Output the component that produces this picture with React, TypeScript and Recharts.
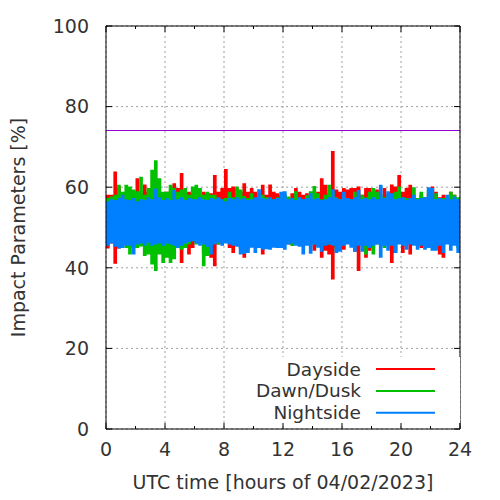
import { ComposedChart, Area, XAxis, YAxis, CartesianGrid, ReferenceLine, Legend } from 'recharts'

// tijdas in uren, bins van 15 minuten
const HOUR_TICKS = [0, 4, 8, 12, 16, 20, 24]
const MINOR_HOURS = [2, 6, 10, 14, 18, 22]
const PCT_TICKS = [0, 20, 40, 60, 80, 100]
const BIN_HOURS = 0.25
const LIMIT_PCT = 74

// boven- en ondergrens per bin
const dayHi = [
  58.1, 58.1, 63.9, 60.2, 57.0, 58.5, 58.9, 57.5, 62.2, 58.5, 60.7, 58.9, 58.9, 57.0, 58.1, 57.5, 58.9, 58.9, 61.0, 59.8, 63.5, 57.5, 58.9, 58.5,
  58.9, 57.5, 58.9, 58.5, 58.5, 63.0, 58.9, 59.8, 64.5, 59.8, 60.2, 59.8, 58.9, 61.0, 58.9, 59.8, 58.9, 57.5, 60.6, 58.1, 60.7, 58.9, 58.5, 58.1,
  58.1, 57.3, 58.5, 59.8, 58.9, 58.1, 58.5, 57.5, 57.7, 58.9, 62.2, 60.6, 58.5, 69.0, 59.4, 58.9, 59.8, 59.4, 59.8, 59.8, 60.2, 58.1, 59.8, 59.8,
  58.9, 59.4, 57.5, 59.8, 58.1, 60.7, 60.2, 63.0, 58.9, 59.8, 60.6, 57.0, 56.8, 58.1, 57.5, 58.5, 60.2, 58.9, 57.5, 58.1, 57.3, 58.9, 58.1, 57.3,
]
const dayLo = [
  44.8, 46.0, 41.0, 44.8, 45.8, 46.4, 46.0, 46.4, 46.6, 46.6, 46.0, 46.4, 46.6, 46.0, 47.0, 46.6, 46.2, 46.0, 46.4, 46.0, 41.2, 46.2, 43.3, 44.9,
  46.2, 46.0, 43.7, 45.8, 42.5, 40.4, 45.8, 46.0, 46.6, 44.9, 43.7, 46.2, 44.8, 42.5, 44.8, 45.5, 46.0, 45.8, 43.3, 46.2, 44.9, 46.0, 45.8, 46.6,
  46.2, 45.8, 45.8, 46.4, 46.6, 46.0, 46.2, 46.4, 44.2, 45.4, 42.5, 44.2, 43.3, 37.1, 45.0, 46.0, 44.5, 46.2, 46.0, 44.0, 39.2, 46.0, 42.5, 44.2,
  44.9, 46.0, 45.8, 46.4, 46.2, 41.2, 43.7, 46.2, 43.7, 45.8, 43.3, 46.2, 46.4, 44.9, 46.0, 46.2, 44.9, 46.0, 43.3, 42.5, 46.0, 46.4, 46.2, 45.4,
]
const dawnHi = [
  57.3, 57.7, 58.1, 60.6, 58.9, 60.6, 60.2, 59.4, 59.0, 62.6, 58.1, 59.8, 64.3, 66.7, 62.2, 58.9, 58.9, 60.6, 59.8, 58.9, 59.4, 59.8, 58.1, 60.2,
  60.6, 59.8, 58.1, 58.9, 58.1, 58.1, 57.3, 57.0, 57.3, 58.9, 57.5, 60.2, 59.4, 57.8, 57.3, 58.5, 57.0, 58.5, 58.1, 57.5, 57.3, 57.0, 57.5, 57.0,
  58.1, 57.7, 57.0, 59.0, 57.3, 57.0, 58.0, 59.0, 60.3, 58.5, 57.0, 58.1, 60.6, 58.9, 57.5, 57.0, 58.1, 57.3, 57.0, 58.9, 57.3, 58.1, 57.5, 58.9,
  59.8, 58.9, 58.1, 57.5, 58.1, 57.3, 58.9, 60.2, 57.5, 57.3, 57.0, 60.0, 57.3, 58.9, 57.5, 59.4, 57.3, 58.5, 57.0, 57.3, 56.5, 58.9, 58.1, 57.5,
]
const dawnLo = [
  46.6, 46.2, 46.0, 45.8, 45.5, 44.9, 43.3, 45.0, 44.9, 45.3, 42.9, 43.3, 40.8, 39.2, 43.3, 41.2, 42.5, 41.2, 42.1, 44.9, 44.5, 44.9, 45.8, 46.6,
  45.8, 46.6, 40.4, 42.9, 45.8, 46.2, 45.8, 46.2, 46.6, 46.0, 46.2, 46.6, 46.0, 44.9, 46.2, 46.0, 46.6, 44.9, 46.2, 46.4, 46.0, 46.6, 46.2, 46.0,
  46.6, 46.0, 45.4, 45.8, 46.2, 46.4, 46.0, 45.8, 45.8, 46.6, 46.2, 46.4, 45.8, 46.2, 44.1, 46.6, 46.2, 46.4, 45.8, 46.2, 46.0, 46.6, 43.3, 46.4,
  43.3, 45.8, 46.2, 44.9, 46.4, 46.2, 44.2, 46.4, 46.6, 46.2, 46.0, 45.8, 46.4, 46.2, 46.6, 46.2, 46.0, 44.5, 46.4, 46.6, 46.2, 46.0, 46.4, 44.9,
]
const nightHi = [
  56.5, 57.0, 56.8, 57.3, 58.1, 57.0, 56.8, 57.3, 56.5, 57.0, 56.8, 57.5, 57.0, 59.7, 57.5, 56.8, 57.3, 56.8, 59.3, 57.0, 57.5, 56.8, 57.3, 57.0,
  57.0, 57.5, 57.0, 56.8, 57.3, 57.0, 57.5, 57.0, 56.5, 57.3, 57.0, 57.5, 57.0, 57.3, 56.8, 57.0, 57.5, 59.5, 57.3, 57.0, 57.5, 57.0, 57.3, 58.9,
  59.0, 57.0, 57.3, 56.8, 57.5, 57.0, 57.3, 58.5, 57.0, 57.3, 56.8, 57.0, 57.5, 59.5, 57.3, 57.0, 58.9, 57.3, 57.0, 57.5, 59.3, 57.0, 57.3, 57.0,
  57.5, 57.0, 60.6, 57.3, 59.0, 58.5, 57.0, 57.3, 57.5, 56.8, 57.3, 58.1, 57.0, 57.3, 57.5, 60.0, 59.8, 57.0, 57.3, 57.0, 58.1, 57.0, 57.7, 57.0,
]
const nightLo = [
  45.5, 46.0, 45.2, 44.8, 44.9, 45.5, 45.5, 43.3, 45.8, 46.0, 45.5, 46.2, 45.5, 45.8, 46.0, 45.5, 46.0, 45.8, 45.5, 44.9, 45.5, 46.0, 46.4, 46.6,
  46.0, 45.5, 45.8, 45.2, 43.3, 45.8, 46.2, 45.5, 46.0, 45.8, 45.5, 45.2, 43.3, 43.5, 43.7, 45.0, 43.7, 44.9, 44.5, 44.6, 44.5, 45.0, 44.9, 44.9,
  44.5, 45.8, 46.0, 45.5, 45.2, 43.3, 45.5, 43.5, 45.8, 45.0, 44.0, 45.5, 45.8, 45.5, 43.7, 44.0, 45.5, 45.8, 45.0, 44.0, 45.5, 44.0, 45.5, 44.9,
  45.5, 45.8, 42.5, 45.5, 44.2, 45.5, 43.7, 45.8, 45.5, 44.5, 45.8, 45.5, 44.5, 45.5, 44.5, 44.9, 44.2, 44.2, 45.5, 43.7, 45.8, 44.2, 45.5, 43.7,
]

const SERIES = [
  { key: 'day', name: 'Dayside', color: '#ff0000' },
  { key: 'dawn', name: 'Dawn/Dusk', color: '#00c000' },
  { key: 'night', name: 'Nightside', color: '#0080ff' },
]

// laatste bin herhaald op t=24 zodat de stap tot de rand loopt
const rows = Array.from({ length: dayHi.length + 1 }, (_, i) => {
  const k = Math.min(i, dayHi.length - 1)
  return {
    t: i * BIN_HOURS,
    day: [dayLo[k], dayHi[k]],
    dawn: [dawnLo[k], dawnHi[k]],
    night: [nightLo[k], nightHi[k]],
  }
})

const W = 500
const H = 500
const MARGIN = { top: 26, right: 40, bottom: 0, left: 0 }
const PLOT_W = 354
const PLOT_H = 403
const FONT = '"DejaVu Sans", Verdana, sans-serif'
const FS = 19
const TXT = '#333333'

// tickjes naar binnen, in data-eenheden omgerekend
const majorY = (6 * 100) / PLOT_H
const minorY = (3 * 100) / PLOT_H
const majorX = (6 * 24) / PLOT_W

type Seg = [{ x: number; y: number }, { x: number; y: number }]
const tickSegs: Seg[] = [
  ...HOUR_TICKS.flatMap((h): Seg[] => [
    [{ x: h, y: 0 }, { x: h, y: majorY }],
    [{ x: h, y: 100 }, { x: h, y: 100 - majorY }],
  ]),
  ...MINOR_HOURS.flatMap((h): Seg[] => [
    [{ x: h, y: 0 }, { x: h, y: minorY }],
    [{ x: h, y: 100 }, { x: h, y: 100 - minorY }],
  ]),
  ...PCT_TICKS.flatMap((p): Seg[] => [
    [{ x: 0, y: p }, { x: majorX, y: p }],
    [{ x: 24, y: p }, { x: 24 - majorX, y: p }],
  ]),
]

function KeyBox() {
  return (
    <svg width={212} height={66} style={{ display: 'block', background: '#fff' }}>
      {SERIES.map((s, i) => {
        const y = 12 + i * 21.9
        return (
          <g key={s.key}>
            <text x={113} y={y} textAnchor="end" dominantBaseline="central"
              style={{ fontFamily: FONT, fontSize: 18.5, fill: TXT }}>{s.name}</text>
            <line x1={128} x2={187} y1={y} y2={y} stroke={s.color} strokeWidth={2} />
          </g>
        )
      })}
    </svg>
  )
}

export default function App() {
  return (
    <div style={{ position: 'absolute', left: 0, top: 0, width: W, height: H, background: '#fff' }}>
      <ComposedChart width={W} height={H} data={rows} margin={MARGIN}>
        <CartesianGrid stroke="#a0a0a0" strokeDasharray="2 3" />
        <XAxis
          dataKey="t" type="number" domain={[0, 24]} ticks={HOUR_TICKS} allowDataOverflow
          height={71} tickLine={false} tickSize={0} tickMargin={14}
          axisLine={{ stroke: '#000' }}
          tick={{ fontFamily: FONT, fontSize: FS, fill: TXT }}
          label={{
            content: () => (
              <text x={106 + PLOT_W / 2} y={482} textAnchor="middle" dominantBaseline="central"
                style={{ fontFamily: FONT, fontSize: FS, fill: TXT }}>
                UTC time [hours of 04/02/2023]
              </text>
            ),
          }}
        />
        <YAxis
          type="number" domain={[0, 100]} ticks={PCT_TICKS} allowDataOverflow
          width={106} tickLine={false} tickSize={0} tickMargin={17}
          axisLine={{ stroke: '#000' }}
          tick={{ fontFamily: FONT, fontSize: FS, fill: TXT }}
          label={{
            content: () => (
              <text x={18} y={26 + PLOT_H / 2} textAnchor="middle" dominantBaseline="central"
                transform={`rotate(-90 18 ${26 + PLOT_H / 2})`}
                style={{ fontFamily: FONT, fontSize: FS, fill: TXT }}>
                Impact Parameters [%]
              </text>
            ),
          }}
        />
        {SERIES.map(s => (
          <Area
            key={s.key} dataKey={s.key} name={s.name} type="stepAfter"
            fill={s.color} fillOpacity={1} stroke="none"
            dot={false} activeDot={false} isAnimationActive={false}
          />
        ))}
        <ReferenceLine y={LIMIT_PCT} stroke="#9400d3" strokeWidth={1} shapeRendering="crispEdges" />
        <ReferenceLine y={100} stroke="#000" strokeWidth={1} />
        <ReferenceLine x={24} stroke="#000" strokeWidth={1} />
        {tickSegs.map((seg, i) => (
          <ReferenceLine key={i} segment={seg} stroke="#000" strokeWidth={1} />
        ))}
        <Legend
          layout="horizontal" verticalAlign="middle" align="center"
          content={() => <KeyBox />}
          wrapperStyle={{ left: 248, top: 357, width: 212, height: 66 }}
        />
      </ComposedChart>
    </div>
  )
}
